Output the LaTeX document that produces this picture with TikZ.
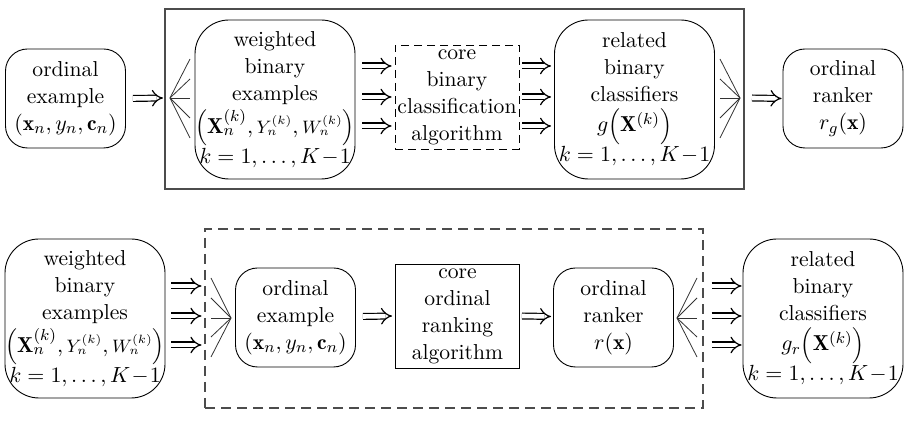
\documentclass[tikz,border=0pt]{standalone}
\usepackage{fontspec}
\usetikzlibrary{arrows.meta,calc}
\newcommand{\smallmath}[1]{\mbox{\fontsize{8.6}{10}\selectfont$#1$}}
\begin{document}
\begin{tikzpicture}[x=0.5pt,y=-0.5pt,
  font=\fontsize{10.8}{13.5}\selectfont,
  rbox/.style={draw, rounded corners=11pt, align=center, inner sep=0pt, line width=0.45pt},
  bigbox/.style={rbox, rounded corners=17pt, minimum width=80pt, minimum height=79.5pt},
  smallbox/.style={rbox, minimum width=60pt, minimum height=49.5pt},
  corebox/.style={align=center, inner sep=0pt, line width=0.45pt, minimum width=62pt, minimum height=52pt},
  frame/.style={draw=black!70, line width=0.55pt, inner sep=0pt},
  dbl/.style={double, double distance=2.3pt, line width=0.6pt, -{Implies}},
  fanline/.style={line width=0.4pt, draw=black!80}]
\useasboundingbox (0,0) rectangle (910,426);

% ---------- top row ----------
\node[frame, minimum width=289.5pt, minimum height=90pt] (frameA) at (454.5,99) {};
\node[smallbox] (oeA) at (65.5,98.5) {ordinal\\example\\$(\mathbf{x}_n,y_n,\mathbf{c}_n)$};
\node[bigbox] (wbA) at (275,99.5) {weighted\\binary\\examples\\[1.5pt]$\left(\mathbf{X}_n^{(k)},\smallmath{Y_n^{(k)}},\smallmath{W_n^{(k)}}\right)$\\$k=1,\ldots,K\!-\!1$};
\node[corebox, draw, dash pattern=on 4pt off 2.5pt] (cbA) at (457,97) {core\\binary\\classification\\algorithm};
\node[bigbox] (rbA) at (634.5,99.5) {related\\binary\\classifiers\\[1.5pt]$g{\left(\mathbf{X}^{(k)}\right)}$\\$k=1,\ldots,K\!-\!1$};
\node[smallbox] (orA) at (843,98.5) {ordinal\\ranker\\$r_g(\mathbf{x})$};

\coordinate (fanA) at (170,98);
\coordinate (fanB) at (740,98);
\foreach \dy in {-39,-19,0,20,40} {
  \draw[fanline] (fanA) -- ++(20,\dy);
  \draw[fanline] (fanB) -- ++(-20,\dy);
}
\draw[dbl] ($(oeA.east)+(7,0)$) -- ($(fanA)+(-7,0)$);
\foreach \y in {66,97,126} {
  \draw[dbl] ($(wbA.east|-0,\y)+(7,0)$) -- ($(cbA.west|-0,\y)+(-3,0)$);
  \draw[dbl] ($(cbA.east|-0,\y)+(3,0)$) -- ($(rbA.west|-0,\y)+(-3,0)$);
}
\draw[dbl] ($(fanB)+(12,0)$) -- ($(orA.west)+(-1,0)$);

% ---------- bottom row ----------
\node[frame, dash pattern=on 5pt off 3pt, minimum width=249pt, minimum height=89.5pt] (frameB) at (454,318.5) {};
\node[bigbox] (wbB) at (85,318.5) {weighted\\binary\\examples\\[1.5pt]$\left(\mathbf{X}_n^{(k)},\smallmath{Y_n^{(k)}},\smallmath{W_n^{(k)}}\right)$\\$k=1,\ldots,K\!-\!1$};
\node[smallbox] (oeB) at (295.5,317.5) {ordinal\\example\\$(\mathbf{x}_n,y_n,\mathbf{c}_n)$};
\node[corebox, draw] (cbB) at (457.5,316) {core\\ordinal\\ranking\\algorithm};
\node[smallbox] (orB) at (613.5,317.5) {ordinal\\ranker\\$r(\mathbf{x})$};
\node[bigbox] (rbB) at (823,318.5) {related\\binary\\classifiers\\[1.5pt]$g_r{\left(\mathbf{X}^{(k)}\right)}$\\$k=1,\ldots,K\!-\!1$};

\coordinate (fanC) at (231,318);
\coordinate (fanD) at (677,318);
\foreach \dy in {-40,-20,0,19,39} {
  \draw[fanline] (fanC) -- ++(-20,\dy);
  \draw[fanline] (fanD) -- ++(20,\dy);
}
\foreach \y in {286,316,345} {
  \draw[dbl] ($(wbB.east|-0,\y)+(6,0)$) -- ($(wbB.east|-0,\y)+(36,0)$);
  \draw[dbl] ($(rbB.west|-0,\y)+(-31,0)$) -- ($(rbB.west|-0,\y)+(-1,0)$);
}
\draw[dbl] ($(oeB.east)+(7,-1)$) -- ($(cbB.west)+(-3,0)$);
\draw[dbl] ($(cbB.east)+(2,0)$) -- ($(orB.west)+(-2,-1)$);
\end{tikzpicture}
\end{document}
